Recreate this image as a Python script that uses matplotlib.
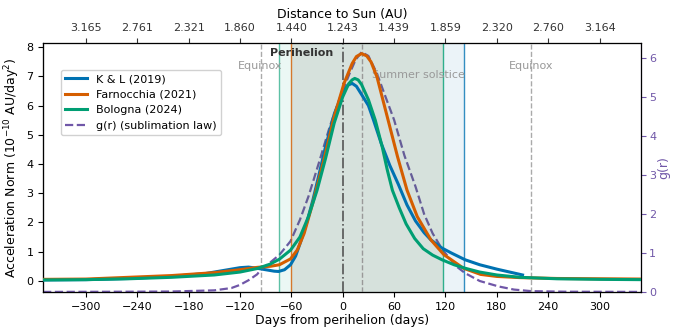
import matplotlib
matplotlib.use("Agg")
import matplotlib.pyplot as plt

# ---------------- data ----------------
kl_days = [-350, -300, -250, -200, -160, -140, -120, -110, -100, -90, -80, -75, -68, -61, -55, -49,
           -42, -35, -28, -20, -10, 0, 6, 11, 16, 22, 30, 36, 45, 55, 65, 75, 85, 95, 103, 116,
           127, 143, 160, 180, 195, 210]
kl_vals = [0.03, 0.04, 0.08, 0.15, 0.25, 0.35, 0.45, 0.47, 0.43, 0.38, 0.33, 0.32, 0.38, 0.55, 0.85, 1.35,
           2.0, 2.75, 3.6, 4.6, 5.7, 6.45, 6.7, 6.76, 6.66, 6.38, 6.0, 5.5, 4.7, 3.95, 3.3, 2.6, 2.05, 1.65, 1.4, 1.12,
           0.95, 0.72, 0.55, 0.4, 0.3, 0.2]

fa_days = [-350, -300, -250, -200, -150, -120, -100, -84, -74, -61, -53, -45, -34, -22, -10, 1.5, 11, 16, 22,
           28, 33, 40, 48, 56, 64, 75, 87, 103, 118, 141, 161, 180, 207, 250, 300, 350]
fa_vals = [0.05, 0.06, 0.12, 0.18, 0.28, 0.38, 0.46, 0.5, 0.55, 0.75, 1.06, 1.63, 2.77, 4.14, 5.62, 6.76, 7.44, 7.68, 7.78,
           7.7, 7.5, 6.98, 6.07, 5.16, 4.25, 3.11, 2.2, 1.4, 0.9, 0.43, 0.22, 0.15, 0.11, 0.08, 0.07, 0.06]

bo_days = [-350, -300, -250, -200, -150, -120, -100, -85, -74, -61, -50, -40, -30, -20, -10, 0, 7, 11, 14,
           18, 22, 30, 38, 46, 52, 58, 66, 74, 84, 94, 105, 116, 130, 143, 160, 180, 207, 250, 300, 350]
bo_vals = [0.03, 0.04, 0.07, 0.12, 0.2, 0.3, 0.42, 0.57, 0.74, 1.05, 1.5, 2.2, 3.1, 4.2, 5.4, 6.3, 6.75, 6.88, 6.93,
           6.88, 6.72, 6.2, 5.5, 4.6, 3.8, 3.1, 2.5, 1.95, 1.45, 1.1, 0.88, 0.72, 0.55, 0.43, 0.3, 0.2, 0.12, 0.07, 0.05, 0.04]

g_days = [-350, -250, -200, -150, -130, -120, -110, -100, -96, -85, -74, -61, -50, -40, -28, -15, -3, 8, 15,
          22, 30, 40, 50, 60, 72, 85, 95, 105, 116, 125, 133, 143, 160, 182, 200, 220, 260, 350]
g_vals = [0.0, 0.005, 0.01, 0.04, 0.1, 0.18, 0.3, 0.45, 0.56, 0.75, 0.95, 1.3, 1.85, 2.45, 3.3, 4.25, 5.0, 5.6, 5.95,
          6.15, 6.05, 5.6, 5.0, 4.41, 3.5, 2.7, 2.0, 1.5, 1.1, 0.85, 0.65, 0.48, 0.28, 0.14, 0.06, 0.02, 0.005, 0.0]

day_ticks = [-300, -240, -180, -120, -60, 0, 60, 120, 180, 240, 300]
dist_labels = ['3.165', '2.761', '2.321', '1.860', '1.440', '1.243', '1.439', '1.859', '2.320', '2.760', '3.164']

equinox_days = [-96, 220]
solstice_day = 23
perihelion_day = 0
span_bologna = (-74, 117)
span_farnocchia = (-61, 117)
span_kl = (-61, 142)

# ---------------- styles ----------------
c_kl = '#0072B2'
c_fa = '#D55E00'
c_bo = '#009E73'
c_g = '#7057A8'

fig = plt.figure(figsize=(6.73, 3.34), dpi=100)
ax = fig.add_axes([0.064, 0.126, 0.888, 0.745])

# spans
ax.axvspan(*span_bologna, color=c_bo, alpha=0.08, lw=0, zorder=0)
ax.axvspan(*span_farnocchia, color=c_fa, alpha=0.08, lw=0, zorder=0)
ax.axvspan(*span_kl, color=c_kl, alpha=0.08, lw=0, zorder=0)
ax.axvline(span_bologna[0], color=c_bo, lw=1.0, alpha=0.6, zorder=1)
ax.axvline(span_kl[1], color=c_kl, lw=1.0, alpha=0.8, zorder=1)
ax.axvline(span_farnocchia[0], color=c_fa, lw=1.0, alpha=0.8, zorder=1)
ax.axvline(span_bologna[1], color=c_bo, lw=1.0, alpha=0.8, zorder=1)

for d in equinox_days:
    ax.axvline(d, color='#aaaaaa', ls='--', lw=1.0, zorder=1)
ax.axvline(solstice_day, color='#999999', ls='--', lw=1.0, zorder=1)
ax.axvline(perihelion_day, color='#555555', ls='-.', lw=1.2, zorder=1)

l1, = ax.plot(kl_days, kl_vals, color=c_kl, lw=2.2, label='K & L (2019)', zorder=3)
l2, = ax.plot(fa_days, fa_vals, color=c_fa, lw=2.2, label='Farnocchia (2021)', zorder=3)
l3, = ax.plot(bo_days, bo_vals, color=c_bo, lw=2.2, label='Bologna (2024)', zorder=3)

ax.set_xlim(-350, 348)
ax.set_ylim(-0.38, 8.14)
ax.set_xticks(day_ticks)
ax.set_yticks(range(0, 9))
ax.tick_params(labelsize=8)
ax.set_xlabel('Days from perihelion (days)', fontsize=9, labelpad=2)
ax.set_ylabel('Acceleration Norm ($10^{-10}$ AU/day$^2$)', fontsize=9, labelpad=3)

ax.text(-96, 7.35, 'Equinox', color='#999999', fontsize=8, ha='center', va='center', zorder=2)
ax.text(220, 7.35, 'Equinox', color='#999999', fontsize=8, ha='center', va='center', zorder=2)
ax.text(34, 7.05, 'Summer solstice', color='#999999', fontsize=8, ha='left', va='center', zorder=2)
ax.text(-48, 7.8, 'Perihelion', color='#333333', fontsize=8, fontweight='bold', ha='center', va='center', zorder=4)

# right axis
ax2 = ax.twinx()
l4, = ax2.plot(g_days, g_vals, color=c_g, lw=1.6, ls='--', label='g(r) (sublimation law)', zorder=3)
ax2.set_ylim(0, 6.38)
ax2.set_yticks(range(0, 7))
ax2.tick_params(axis='y', colors=c_g, labelsize=8, pad=2.5)
ax2.set_ylabel('g(r)', color=c_g, fontsize=9, labelpad=1)
ax2.spines['right'].set_color(c_g)

# top axis
ax3 = ax.twiny()
ax3.set_xlim(ax.get_xlim())
ax3.set_xticks(day_ticks)
ax3.set_xticklabels(dist_labels)
ax3.tick_params(labelsize=8, colors='#333333')
ax3.set_xlabel('Distance to Sun (AU)', fontsize=9, labelpad=4)
ax3.spines['top'].set_color('#444444')

leg = ax.legend(handles=[l1, l2, l3, l4], loc='upper left', bbox_to_anchor=(0.02, 0.915),
                fontsize=8, framealpha=0.9)
leg.set_zorder(10)
ax.set_zorder(ax2.get_zorder() + 1)
ax.patch.set_visible(False)

fig.savefig('out.png', dpi=100)
